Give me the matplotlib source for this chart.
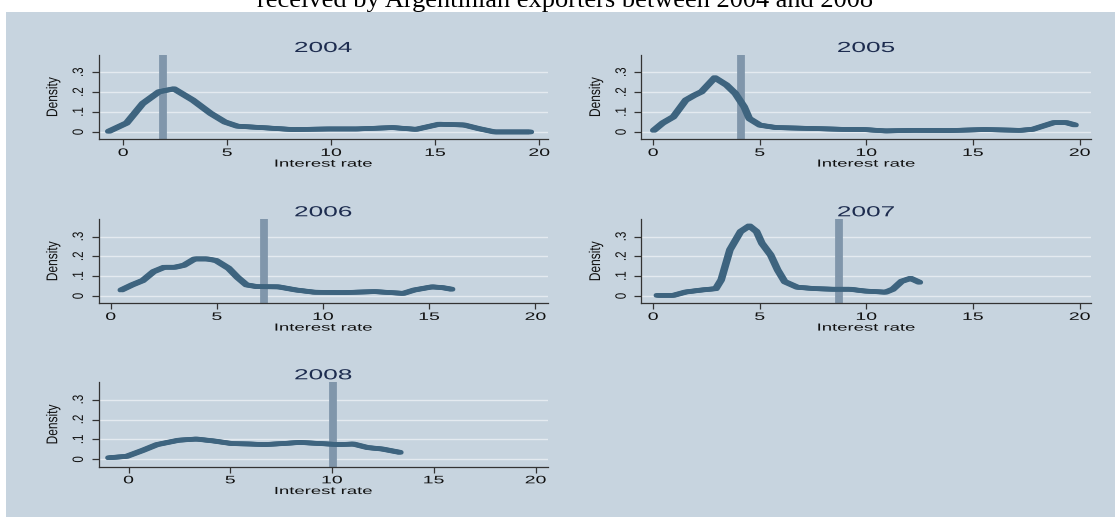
import numpy as np
import matplotlib
matplotlib.use("Agg")
import matplotlib.pyplot as plt
import matplotlib.patheffects as pe
from matplotlib.patches import Rectangle
from matplotlib.patheffects import AbstractPathEffect
from matplotlib.transforms import Affine2D

# kernel density of interest rates, one panel per year
years = ["2004", "2005", "2006", "2007", "2008"]

rate_2004 = [-0.69, 0.17, 0.94, 1.72, 2.44, 3.35, 4.21, 4.89, 5.49, 6.95, 8.15,
             9.87, 11.24, 12.96, 14.08, 15.19, 16.39, 17.08, 17.85, 19.57]
dens_2004 = [0.003, 0.045, 0.143, 0.202, 0.217, 0.160, 0.093, 0.050, 0.029, 0.020,
             0.012, 0.015, 0.015, 0.022, 0.013, 0.039, 0.035, 0.017, 0.0, 0.0]

rate_2005 = [0.03, 0.45, 0.95, 1.53, 1.94, 2.27, 2.89, 3.44, 3.85, 4.27, 4.51, 5.01,
             5.76, 7.25, 8.91, 9.91, 10.9, 12.23, 13.89, 15.55, 17.21, 17.79, 18.29,
             18.79, 19.37, 19.78]
dens_2005 = [0.008, 0.045, 0.076, 0.160, 0.185, 0.202, 0.273, 0.236, 0.194, 0.126,
             0.067, 0.034, 0.022, 0.018, 0.013, 0.012, 0.005, 0.008, 0.007, 0.012,
             0.008, 0.013, 0.030, 0.047, 0.047, 0.035]

rate_2006 = [0.5, 1.01, 1.51, 2.02, 2.52, 3.03, 3.45, 3.95, 4.54, 4.96, 5.55, 5.97,
             6.39, 6.89, 7.9, 8.74, 9.58, 10.92, 12.44, 13.78, 14.29, 15.13, 15.63,
             16.05]
dens_2006 = [0.030, 0.056, 0.078, 0.123, 0.145, 0.145, 0.155, 0.187, 0.187, 0.179,
             0.140, 0.094, 0.056, 0.047, 0.046, 0.030, 0.019, 0.017, 0.022, 0.013,
             0.030, 0.046, 0.042, 0.034]

rate_2007 = [0.2, 0.95, 1.53, 2.27, 2.94, 3.19, 3.6, 4.1, 4.51, 4.85, 5.1, 5.51,
             5.84, 6.17, 6.76, 7.59, 8.41, 9.24, 9.91, 10.9, 11.24, 11.65, 12.07,
             12.48]
dens_2007 = [0.003, 0.003, 0.020, 0.030, 0.037, 0.081, 0.233, 0.325, 0.354, 0.325,
             0.266, 0.207, 0.131, 0.072, 0.044, 0.037, 0.034, 0.034, 0.025, 0.019,
             0.034, 0.074, 0.089, 0.069]

rate_2008 = [-0.96, -0.09, 0.7, 1.4, 2.46, 3.33, 4.21, 5.09, 5.96, 6.67, 7.54, 8.42,
             9.47, 10.35, 11.05, 11.75, 12.46, 13.33]
dens_2008 = [0.008, 0.015, 0.045, 0.074, 0.096, 0.102, 0.092, 0.079, 0.077, 0.074,
             0.079, 0.085, 0.079, 0.074, 0.077, 0.059, 0.052, 0.035]

rates = [rate_2004, rate_2005, rate_2006, rate_2007, rate_2008]
dens = [dens_2004, dens_2005, dens_2006, dens_2007, dens_2008]
mean_rate = [1.9, 4.1, 7.2, 8.7, 10.05]
xranges = [(-1.18, 20.43), (-0.55, 20.53), (-0.57, 20.6), (-0.55, 20.53), (-1.47, 20.62)]

xticks = [0, 5, 10, 15, 20]
yticks = [0, 0.1, 0.2, 0.3]
ytick_labels = ["0", ".1", ".2", ".3"]

BG = "#c7d4df"
LINE = "#3e647f"
BAR = "#8096ab"
GRID = "#e4eaf0"
TITLE = "#1d2c4f"


class HStretch(AbstractPathEffect):
    """widen text glyphs horizontally about their centre"""
    def __init__(self, sx):
        super().__init__()
        self.sx = sx

    def draw_path(self, renderer, gc, tpath, affine, rgbFace=None):
        ext = tpath.get_extents(affine)
        cx = 0.5 * (ext.x0 + ext.x1)
        affine = affine + Affine2D().translate(-cx, 0).scale(self.sx, 1).translate(cx, 0)
        renderer.draw_path(gc, tpath, affine, rgbFace)


wide = [HStretch(1.8)]
tall = [HStretch(1.3)]
# flat brush: same stroke smeared sideways a little
brush = [pe.Stroke(offset=(-1.1, 0)), pe.Stroke(offset=(1.1, 0)), pe.Normal()]

W, H = 1115, 517
fig = plt.figure(figsize=(W / 100, H / 100), dpi=100)
fig.patch.set_facecolor("white")
fig.add_artist(Rectangle((6 / W, 0), 1 - 6 / W, 1 - 12 / H, transform=fig.transFigure,
                         facecolor=BG, edgecolor="none", zorder=-1))

fig.text(565 / W, 1 - 7.5 / H, "received by Argentinian exporters between 2004 and 2008",
         ha="center", va="baseline", fontfamily="Liberation Serif", fontsize=19,
         color="black")

# panel boxes in pixels: (left, right, top, bottom)
cols = [(98.6, 548.2), (641.4, 1091.0)]
rows = [(55.0, 139.3), (219.3, 303.3), (382.3, 466.7)]

for i, yr in enumerate(years):
    l, r = cols[i % 2]
    t, b = rows[i // 2]
    ax = fig.add_axes([l / W, 1 - b / H, (r - l) / W, (b - t) / H])
    ax.set_facecolor(BG)

    for yv in yticks:
        ax.axhline(yv, color=GRID, lw=1.0, zorder=1)
    ax.axvline(mean_rate[i], color=BAR, lw=5.6, zorder=2)
    ax.plot(rates[i], dens[i], color=LINE, lw=3.3, solid_capstyle="round",
            solid_joinstyle="round", zorder=3, path_effects=brush)

    ax.set_xlim(*xranges[i])
    ax.set_ylim(-0.037, 0.387)
    ax.set_xticks(xticks)
    ax.set_yticks(yticks)
    ax.set_yticklabels(ytick_labels)

    for s in ["top", "right"]:
        ax.spines[s].set_visible(False)
    for s in ["left", "bottom"]:
        ax.spines[s].set_color("#333333")
        ax.spines[s].set_linewidth(0.9)

    ax.tick_params(axis="x", length=4, width=0.9, color="#333333", pad=2.2,
                   labelsize=7.8, labelcolor="#111111")
    ax.tick_params(axis="y", length=5, width=0.9, color="#333333", pad=5.0,
                   labelsize=8.3, labelcolor="#111111", labelrotation=90)
    for lab in ax.get_xticklabels():
        lab.set_fontfamily("Liberation Sans")
        lab.set_path_effects(wide)
    for lab in ax.get_yticklabels():
        lab.set_fontfamily("Liberation Sans")
        lab.set_va("center")
        lab.set_path_effects(tall)

    ax.set_title(yr, fontsize=10.5, color=TITLE, pad=1.5, fontfamily="Liberation Sans",
                 path_effects=wide)
    ax.set_xlabel("Interest rate", fontsize=7.4, labelpad=0.5, color="#111111",
                  fontfamily="Liberation Sans", path_effects=wide)
    ax.set_ylabel("Density", fontsize=8.6, color="#111111",
                  fontfamily="Liberation Sans", path_effects=tall)
    ax.yaxis.label.set_va("center")
    ax.yaxis.set_label_coords(-0.1008, 0.5)

fig.savefig("out.png", dpi=100)
